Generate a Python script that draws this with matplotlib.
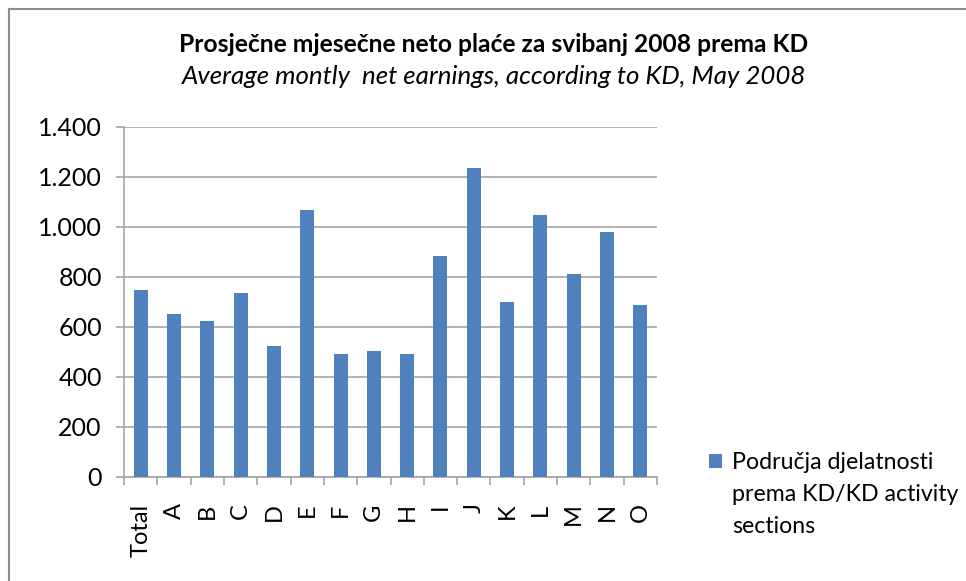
import matplotlib
matplotlib.use("Agg")
import matplotlib.pyplot as plt
from matplotlib.ticker import FuncFormatter, FixedLocator, NullFormatter
from matplotlib.lines import Line2D
from matplotlib.patches import Rectangle
from matplotlib.container import BarContainer
from matplotlib.legend_handler import HandlerPatch

categories = ["Total", "A", "B", "C", "D", "E", "F", "G", "H",
              "I", "J", "K", "L", "M", "N", "O"]
earnings = [749, 653, 623, 735, 525, 1069, 493, 505, 493,
            884, 1237, 699, 1048, 812, 981, 689]

title = "Prosječne mjesečne neto plaće za svibanj 2008 prema KD"
subtitle = "Average montly  net earnings, according to KD, May 2008"
legend_label = "Područja djelatnosti\nprema KD/KD activity\nsections"

bar_color = "#4F81BD"
grid_color = "#A6A6A6"

plt.rcParams["font.family"] = ["Lato", "DejaVu Sans"]

fig = plt.figure(figsize=(9.66, 5.81), dpi=100)
ax = fig.add_axes([124 / 966, 1 - 477 / 581, 533 / 966, 350 / 581])

x = list(range(len(categories)))
bars = ax.bar(x, earnings, width=0.42, color=bar_color, zorder=3)

ax.set_xlim(-0.5, len(categories) - 0.5)
ax.set_ylim(0, 1400)
ax.set_yticks(range(0, 1401, 200))
ax.yaxis.set_major_formatter(FuncFormatter(lambda v, p: f"{int(v):,}".replace(",", ".")))
ax.grid(axis="y", color=grid_color, linewidth=1.2, zorder=0)

# category labels centred, tick marks on the category boundaries
ax.set_xticks(x)
ax.set_xticklabels(categories, rotation=90, fontsize=17)
ax.tick_params(axis="x", which="major", length=0, pad=19)
ax.xaxis.set_minor_locator(FixedLocator([i - 0.5 for i in range(len(categories) + 1)]))
ax.xaxis.set_minor_formatter(NullFormatter())
ax.tick_params(axis="x", which="minor", length=6, color=grid_color, width=1.2)
ax.tick_params(axis="y", labelsize=18, length=6, color=grid_color, width=1.2, pad=10)

for s in ["top", "right"]:
    ax.spines[s].set_visible(False)
for s in ["left", "bottom"]:
    ax.spines[s].set_color(grid_color)
    ax.spines[s].set_linewidth(1.2)

fig.text(0.511, 1 - 45 / 581, title, ha="center", va="center",
         fontsize=17.7, fontweight="bold")
fig.text(0.511, 1 - 77 / 581, subtitle, ha="center", va="center",
         fontsize=18.6, fontstyle="italic")


# legend square sits beside the first line of the label, as in the original
def top_square(legend, orig_handle, xdescent, ydescent, width, height, fontsize):
    return Rectangle((-xdescent, -ydescent + fontsize * 1.44), width, height)


def from_first_bar(handle, orig):
    handle.update_from(orig.patches[0])


leg = fig.legend([bars], [legend_label], loc="upper left",
                 bbox_to_anchor=(697 / 966, 1 - 440 / 581), frameon=False,
                 fontsize=16.7, handlelength=0.58, handleheight=0.58,
                 handletextpad=0.45, borderpad=0,
                 handler_map={BarContainer: HandlerPatch(patch_func=top_square,
                                                         update_func=from_first_bar)})
for t in leg.get_texts():
    t.set_linespacing(1.65)

# chart-area border
fig.add_artist(Line2D([8.5 / 966, 8.5 / 966], [0, 1 - 8.5 / 581], color="#8C8C8C",
                      linewidth=1.5, transform=fig.transFigure))
fig.add_artist(Line2D([8.5 / 966, 965 / 966], [1 - 8.5 / 581, 1 - 8.5 / 581], color="#8C8C8C",
                      linewidth=1.5, transform=fig.transFigure))

fig.savefig("out.png", dpi=100)
